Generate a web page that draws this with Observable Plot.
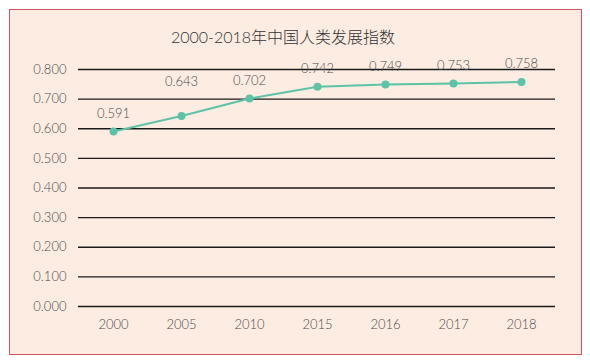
<!DOCTYPE html>
<html><head><meta charset="utf-8">
<script src="https://cdn.jsdelivr.net/npm/d3@7"></script>
<script src="https://cdn.jsdelivr.net/npm/@observablehq/plot@0.6"></script>
<style>
html,body{margin:0;padding:0;background:#fff;}
#frame{position:absolute;left:9px;top:9px;width:573px;height:346px;box-sizing:border-box;border:1.3px solid #D2565F;background:#FDECE2;}
#title{position:absolute;left:0;top:27px;width:566px;text-align:center;font-family:Lato,"Noto Sans CJK SC",sans-serif;font-weight:300;font-size:16px;color:#333;line-height:20px;}
#chart{position:absolute;left:0;top:0;}
</style></head>
<body>
<div id="frame"></div>
<div id="title">2000-2018年中国人类发展指数</div>
<div id="chart"></div>
<script>
const years = ["2000","2005","2010","2015","2016","2017","2018"];
const hdi = [0.591,0.643,0.702,0.742,0.749,0.753,0.758];
const yTicks = [0,0.1,0.2,0.3,0.4,0.5,0.6,0.7,0.8];

const data = years.map((y,i)=>({year:y, value:hdi[i]}));
const fmt = d3.format(".3f");
const green = "#5DC3A6";
const chart = Plot.plot({
  width:590, height:363,
  marginLeft:78, marginRight:35, marginTop:69, marginBottom:57,
  style:{background:"transparent", fontFamily:"Lato, 'Noto Sans CJK SC', sans-serif", fontWeight:300, fontSize:"13px", color:"#4d4d4d"},
  x:{type:"point", domain:years, padding:0.5, label:null, tickSize:0, tickPadding:13},
  y:{domain:[0,0.8], ticks:yTicks, tickFormat:fmt, label:null, tickSize:0, tickPadding:12},
  marks:[
    Plot.ruleY(yTicks, {stroke:"#1a1a1a", strokeWidth:1.3}),
    Plot.line(data, {x:"year", y:"value", stroke:green, strokeWidth:2}),
    Plot.dot(data, {x:"year", y:"value", r:4, fill:green}),
    Plot.text(data.filter(d=>d.year!=="2005"), {x:"year", y:"value", text:d=>fmt(d.value), dy:-18, fill:"#4d4d4d", fontSize:13}),
    Plot.text(data.filter(d=>d.year==="2005"), {x:"year", y:"value", text:d=>fmt(d.value), dy:-34, fill:"#4d4d4d", fontSize:13})
  ]
});
document.getElementById("chart").appendChild(chart);
</script>
</body></html>
